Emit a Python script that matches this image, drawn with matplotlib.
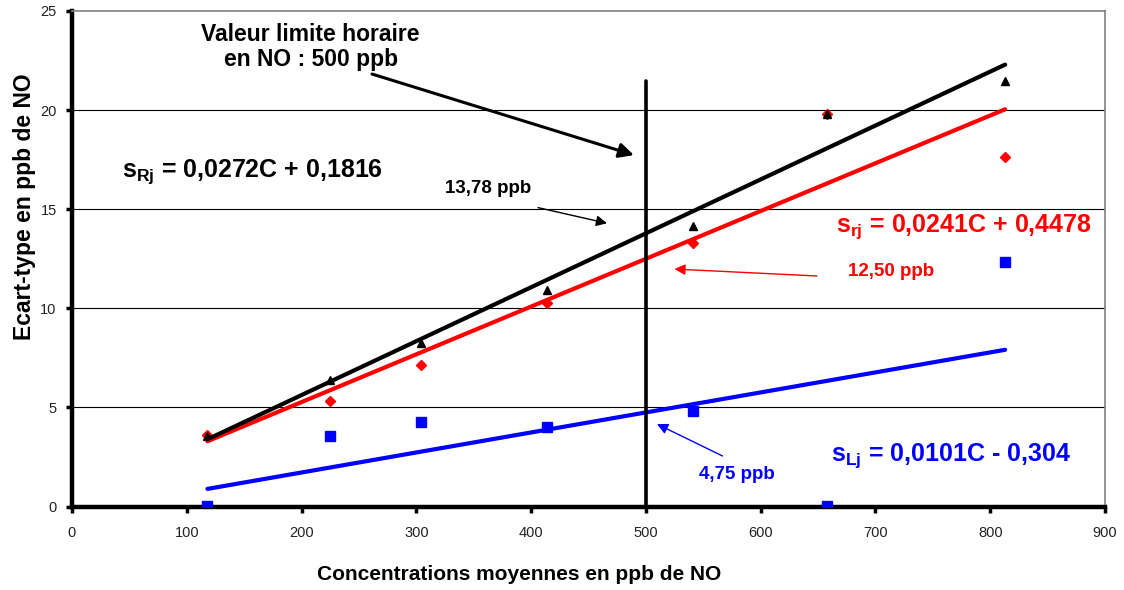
import numpy as np
import matplotlib
matplotlib.use('Agg')
import matplotlib.pyplot as plt

plt.rcParams['font.family'] = ['Liberation Sans', 'DejaVu Sans']
plt.rcParams['mathtext.fontset'] = 'custom'
plt.rcParams['mathtext.rm'] = 'Liberation Sans'
plt.rcParams['mathtext.bf'] = 'Liberation Sans:bold'

# donnees
conc = [118, 225, 304, 414, 541, 658, 813]
s_R = [3.57, 6.39, 8.27, 10.92, 14.13, 19.8, 21.48]
s_r = [3.6, 5.33, 7.14, 10.25, 13.3, 19.8, 17.62]
s_L = [0.05, 3.54, 4.26, 3.99, 4.8, 0.05, 12.34]

# droites de regression (pente, ordonnee)
fit_R = [0.0272, 0.1816]
fit_r = [0.0241, 0.4478]
fit_L = [0.0101, -0.304]

limite = 500
limite_haut = 21.45

fig = plt.figure(figsize=(11.24, 5.9), dpi=100)
ax = fig.add_axes([72/1124, 83.5/590, 1033/1124, 495.5/590])

# points
ax.plot(conc, s_L, 's', color='#0000ff', markersize=6.5, zorder=3)
ax.plot(conc, s_r, 'D', color='#ff0000', markersize=4.8, zorder=3)
ax.plot(conc, s_R, '^', color='black', markersize=6, zorder=3)

# droites
xx = np.array([min(conc), max(conc)])
ax.plot(xx, fit_L[0]*xx + fit_L[1], color='#0000ff', lw=3, solid_capstyle='round', zorder=4)
ax.plot(xx, fit_r[0]*xx + fit_r[1], color='#ff0000', lw=3, solid_capstyle='round', zorder=4)
ax.plot(xx, fit_R[0]*xx + fit_R[1], color='black', lw=3, solid_capstyle='round', zorder=4)

# valeur limite
ax.plot([limite, limite], [0, limite_haut], color='black', lw=2.6, solid_capstyle='round', zorder=4)

ax.set_xlim(0, 900)
ax.set_ylim(0, 25)
ax.set_xticks(range(0, 901, 100))
ax.set_yticks(range(0, 26, 5))
for y in [5, 10, 15, 20]:
    ax.axhline(y, color='black', lw=0.8, zorder=1)

ax.spines['left'].set_linewidth(3.2)
ax.spines['bottom'].set_linewidth(3.2)
ax.spines['top'].set_color('#808080')
ax.spines['right'].set_color('#808080')
ax.spines['top'].set_linewidth(1.2)
ax.spines['right'].set_linewidth(1.2)
ax.tick_params(axis='both', direction='out', length=4, width=2.5, labelsize=10.5, labelcolor='#222222')
ax.tick_params(axis='x', pad=10)
ax.tick_params(axis='y', pad=7)

fig.text(519/1124, 1 - 575/590, 'Concentrations moyennes en ppb de NO', ha='center', va='center',
         fontsize=15, fontweight='bold')
fig.text(25/1124, 1 - 207/590, 'Ecart-type en ppb de NO', ha='center', va='center', rotation=90,
         fontsize=16.5, fontweight='bold')

# annotations
ax.text(208, 23.2, 'Valeur limite horaire\nen NO : 500 ppb', ha='center', va='center',
        fontsize=16.5, fontweight='bold', linespacing=1.1)
ax.annotate('', xy=(489.6, 17.73), xytext=(261.4, 21.82),
            arrowprops=dict(arrowstyle='-|>', color='black', lw=2.2, mutation_scale=22,
                            shrinkA=0, shrinkB=0))

ax.text(43.6, 16.62, r's$_{\mathbf{Rj}}$ = 0,0272C + 0,1816', ha='left', va='baseline',
        fontsize=18, fontweight='bold', color='black')
ax.text(665.6, 13.85, r's$_{\mathbf{rj}}$ = 0,0241C + 0,4478', ha='left', va='baseline',
        fontsize=18, fontweight='bold', color='#ff0000')
ax.text(661, 2.31, r's$_{\mathbf{Lj}}$ = 0,0101C - 0,304', ha='left', va='baseline',
        fontsize=18, fontweight='bold', color='#0000ff')

ax.text(362.5, 15.83, '13,78 ppb', ha='center', va='baseline', fontsize=13.5, fontweight='bold')
ax.annotate('', xy=(466.1, 14.29), xytext=(406, 15.08),
            arrowprops=dict(arrowstyle='-|>', color='black', lw=1, mutation_scale=16,
                            shrinkA=0, shrinkB=0))

ax.text(713.5, 11.63, '12,50 ppb', ha='center', va='baseline', fontsize=13.5, fontweight='bold',
        color='#ff0000')
ax.annotate('', xy=(524.9, 11.98), xytext=(649, 11.63),
            arrowprops=dict(arrowstyle='-|>', color='#ff0000', lw=1, mutation_scale=16,
                            shrinkA=0, shrinkB=0))

ax.text(579.4, 1.37, '4,75 ppb', ha='center', va='baseline', fontsize=13.5, fontweight='bold',
        color='#0000ff')
ax.annotate('', xy=(509.7, 4.16), xytext=(566.7, 2.55),
            arrowprops=dict(arrowstyle='-|>', color='#0000ff', lw=1, mutation_scale=16,
                            shrinkA=0, shrinkB=0))

fig.savefig('out.png', dpi=100)
